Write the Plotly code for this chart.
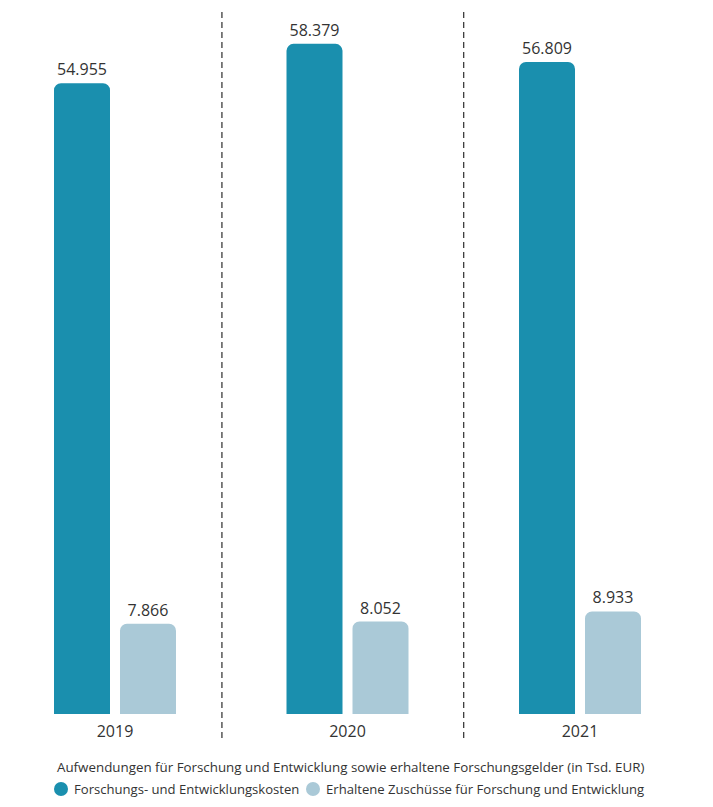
import plotly.graph_objects as go

years = ["2019", "2020", "2021"]
fe_kosten = [54955, 58379, 56809]
zuschuesse = [7866, 8052, 8933]
series_names = ["Forschungs- und Entwicklungskosten", "Erhaltene Zuschüsse für Forschung und Entwicklung"]
title_text = "Aufwendungen für Forschung und Entwicklung sowie erhaltene Forschungsgelder (in Tsd. EUR)"

DARK = "#1a8fae"
LIGHT = "#aac9d7"
TXT = "#333333"
FONT = "Open Sans"
W, H = 713, 807
B = 93
PH = H - B  # plot height in px


def px_x(p):
    return p / W


def px_y(p):
    return (PH - p) / PH


fig = go.Figure()
for name, vals, col in [(series_names[0], fe_kosten, DARK), (series_names[1], zuschuesse, LIGHT)]:
    fig.add_trace(go.Bar(
        x=years, y=vals, name=name, marker=dict(color=col, line=dict(width=0)),
        texttemplate="%{y:,.0f}", textposition="outside",
        textfont=dict(size=16, color=TXT, family=FONT),
        cliponaxis=False, showlegend=False, hoverinfo="skip",
    ))

# separators between the year groups
for xpos in [0.46, 1.5]:
    fig.add_shape(type="line", xref="x", yref="paper", x0=xpos, x1=xpos,
                  y0=px_y(12), y1=px_y(740),
                  line=dict(color="black", width=1, dash="6px,4px"))

# caption and legend
fig.add_annotation(text=title_text, xref="paper", yref="paper",
                   x=px_x(55), y=px_y(767), xanchor="left", yanchor="middle",
                   showarrow=False, font=dict(size=13.35, color=TXT, family=FONT))
for name, col, cx, tx in [(series_names[0], DARK, 61, 72), (series_names[1], LIGHT, 313, 324)]:
    fig.add_shape(type="circle", xref="paper", yref="paper",
                  xsizemode="pixel", ysizemode="pixel",
                  xanchor=px_x(cx), yanchor=px_y(789),
                  x0=-7, x1=7, y0=-7, y1=7,
                  fillcolor=col, line=dict(width=0))
    fig.add_annotation(text=name, xref="paper", yref="paper",
                       x=px_x(tx), y=px_y(789), xanchor="left", yanchor="middle",
                       showarrow=False, font=dict(size=13.1, color=TXT, family=FONT))

fig.update_layout(
    width=W, height=H,
    margin=dict(l=0, r=0, t=0, b=B, autoexpand=False),
    paper_bgcolor="white", plot_bgcolor="white",
    barmode="group", bargap=0.4323, bargroupgap=0.1515,
    barcornerradius=7,
    separators=",.",
    font=dict(family=FONT, color=TXT),
    xaxis=dict(range=[-0.4946, 2.572], showgrid=False, zeroline=False, automargin=False,
               showline=False, ticks="", ticklabelstandoff=6, fixedrange=True,
               tickfont=dict(size=16, color=TXT, family=FONT)),
    yaxis=dict(range=[0, 62200], visible=False, automargin=False, fixedrange=True),
    showlegend=False,
)

fig.write_html("out.html", config={"displayModeBar": False},
               post_script="document.body.style.margin='0';")
